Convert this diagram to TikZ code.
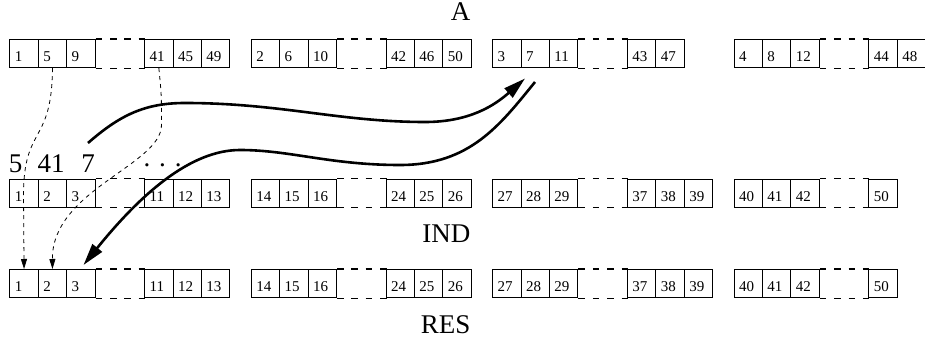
\documentclass[tikz,border=0pt]{standalone}
\usepackage{fontspec}
\setmainfont{Liberation Serif}
\usetikzlibrary{arrows.meta,calc}
\newcommand\mygroup[5]{%
  \pgfmathsetmacro\gx{9.3+(#3-1)*241.4}
  \foreach \t [count=\k] in {#4} {\node[cell] (#1#3-\k) at (\gx+\k*28.4-28.4,#2) {\t};}
  \foreach \t [count=\k from 4] in {#5} {\node[cell] (#1#3-\k) at (\gx+134.8+\k*28.4-113.6,#2) {\t};}
  \foreach \d in {0,14.4,28.7,43.1} {
    \draw[gapline] ($(#1#3-3.north east)+(\d,0)$) -- +(6.5,0);
    \draw[gapline] ($(#1#3-3.south east)+(\d,0)$) -- +(6.5,0);
  }
}
\begin{document}
\begin{tikzpicture}[x=1pt,y=-1pt,
  cell/.style={draw, line width=1.1pt, rectangle, anchor=north west,
    minimum width=28.4pt, minimum height=28pt, inner xsep=5pt, inner ysep=0pt,
    text width=18.4pt, align=left, text height=22pt, text depth=6pt,
    font=\fontsize{15}{15}\selectfont},
  gapline/.style={line width=1.1pt},
  biglabel/.style={inner sep=0pt, font=\fontsize{27}{27}\selectfont},
  conn/.style={line width=0.8pt, dash pattern=on 4pt off 4pt,
    -{Triangle[length=10pt,width=6pt]}},
  bigarrow/.style={line width=2.6pt, -{Triangle[length=22pt,width=12pt]}}
]
\useasboundingbox (0,0) rectangle (925,339);
% row A
\mygroup{a}{39}{1}{1,5,9}{41,45,49}
\mygroup{a}{39}{2}{2,6,10}{42,46,50}
\mygroup{a}{39}{3}{3,7,11}{43,47}
\mygroup{a}{39}{4}{4,8,12}{44,48}
% row IND
\mygroup{i}{178.5}{1}{1,2,3}{11,12,13}
\mygroup{i}{178.5}{2}{14,15,16}{24,25,26}
\mygroup{i}{178.5}{3}{27,28,29}{37,38,39}
\mygroup{i}{178.5}{4}{40,41,42}{50}
% row RES
\mygroup{r}{269}{1}{1,2,3}{11,12,13}
\mygroup{r}{269}{2}{14,15,16}{24,25,26}
\mygroup{r}{269}{3}{27,28,29}{37,38,39}
\mygroup{r}{269}{4}{40,41,42}{50}
% labels
\node[biglabel, anchor=base east] (lA) at (470.5,21) {A};
\node[biglabel, anchor=base east] (lIND) at (470.5,242) {IND};
\node[biglabel, anchor=base east] (lRES) at (470.5,333) {RES};
\node[biglabel, anchor=base west] (n5) at (8.6,172) {5};
\node[biglabel, anchor=base west] (n41) at (37.5,172) {41};
\node[biglabel, anchor=base west] (n7) at (81.2,172) {7};
\node[biglabel, anchor=base west] (ndots) at (143.3,166.5) {. . .};
% dashed connectors
\draw[conn] (a1-2.south) .. controls (52,145) and (23.5,125) .. (23.5,195) -- (r1-1.north);
\draw[conn] (a1-4.south) .. controls (161.5,95) .. (161.5,125) .. controls (161.5,165) and (51.9,190) .. (r1-2.north);
% thick arrows
\coordinate (s1) at (88,143);
\coordinate (e1) at (525,78.5);
\coordinate (s2) at (535,82);
\coordinate (e2) at (83.5,265);
\draw[bigarrow] (s1) .. controls (120,115) and (145,103) .. (185,103)
  .. controls (280,103) and (340,122) .. (425,122)
  .. controls (470,122) and (495,105) .. (e1);
\draw[bigarrow] (s2) .. controls (500,125) and (470,165) .. (400,165)
  .. controls (330,165) and (290,150) .. (240,150)
  .. controls (190,150) and (140,195) .. (e2);
\end{tikzpicture}
\end{document}
